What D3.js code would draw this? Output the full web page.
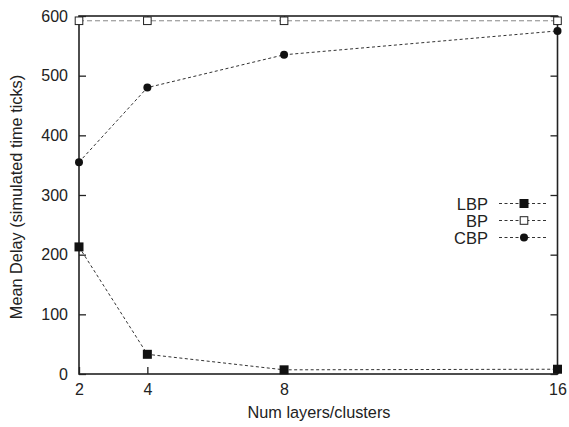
<!DOCTYPE html>
<html>
<head>
<meta charset="utf-8">
<script src="https://cdn.jsdelivr.net/npm/d3@7"></script>
<style>
  body { margin: 0; background: #fff; }
  text { font-family: "Liberation Sans", Arial, sans-serif; fill: #222; }
</style>
</head>
<body>
<script>
const xValues = [2, 4, 8, 16];
const lbp = [213, 33, 7, 8];
const bp = [592, 592, 592, 592];
const cbp = [355, 480, 535, 575];
const yTicks = [0, 100, 200, 300, 400, 500, 600];
const seriesNames = ["LBP", "BP", "CBP"];

const w = 569, h = 427;
const plotL = 79, plotR = 557.5, plotT = 16, plotB = 374;

const svg = d3.select("body").append("svg")
  .attr("width", w).attr("height", h);

const xScale = d3.scaleLinear().domain([2, 16]).range([plotL, plotR]);
const yScale = d3.scaleLinear().domain([0, 600]).range([plotB, plotT]);

// axes with inward ticks (mirrored on top and right)
svg.append("g")
  .attr("transform", `translate(0,${plotB})`)
  .call(d3.axisBottom(xScale).tickValues(xValues).tickSizeInner(-7).tickSizeOuter(0).tickPadding(10))
  .call(g => g.select(".domain").remove())
  .call(g => g.selectAll("text").attr("font-size", 16).attr("fill", "#222"));

svg.append("g")
  .attr("transform", `translate(0,${plotT})`)
  .call(d3.axisTop(xScale).tickValues(xValues).tickSizeInner(-7).tickSizeOuter(0).tickFormat(""))
  .call(g => g.select(".domain").remove());

svg.append("g")
  .attr("transform", `translate(${plotL},0)`)
  .call(d3.axisLeft(yScale).tickValues(yTicks).tickSizeInner(-7).tickSizeOuter(0).tickPadding(11))
  .call(g => g.select(".domain").remove())
  .call(g => g.selectAll("text").attr("font-size", 16).attr("fill", "#222"));

svg.append("g")
  .attr("transform", `translate(${plotR},0)`)
  .call(d3.axisRight(yScale).tickValues(yTicks).tickSizeInner(-7).tickSizeOuter(0).tickFormat(""))
  .call(g => g.select(".domain").remove());

svg.selectAll(".tick line").attr("stroke", "#222").attr("stroke-width", 1.3);

svg.append("rect")
  .attr("x", plotL).attr("y", plotT)
  .attr("width", plotR - plotL).attr("height", plotB - plotT)
  .attr("fill", "none").attr("stroke", "#222").attr("stroke-width", 1.6);

const line = d3.line().x((d, i) => xScale(xValues[i])).y(d => yScale(d));

const styles = {
  LBP: { data: lbp, stroke: "#333", dash: "3,2.5", marker: "fillsq" },
  BP:  { data: bp,  stroke: "#888", dash: "5,3", marker: "opensq" },
  CBP: { data: cbp, stroke: "#333", dash: "3,2.5", marker: "circle" }
};

function drawMarker(g, type, x, y) {
  if (type === "fillsq") {
    g.append("rect").attr("x", x - 4.5).attr("y", y - 4.5).attr("width", 9).attr("height", 9)
      .attr("fill", "#111");
  } else if (type === "opensq") {
    g.append("rect").attr("x", x - 3.8).attr("y", y - 3.8).attr("width", 7.6).attr("height", 7.6)
      .attr("fill", "#fff").attr("stroke", "#222").attr("stroke-width", 1);
  } else {
    g.append("circle").attr("cx", x).attr("cy", y).attr("r", 4).attr("fill", "#111");
  }
}

seriesNames.forEach(name => {
  const s = styles[name];
  svg.append("path")
    .datum(s.data)
    .attr("d", line)
    .attr("fill", "none")
    .attr("stroke", s.stroke)
    .attr("stroke-width", 1)
    .attr("stroke-dasharray", s.dash);
  const g = svg.append("g");
  s.data.forEach((v, i) => drawMarker(g, s.marker, xScale(xValues[i]), yScale(v)));
});

// legend
const legendY = [203.5, 220.5, 237.5];
seriesNames.forEach((name, i) => {
  const s = styles[name];
  const y = legendY[i];
  svg.append("text")
    .attr("x", 488).attr("y", y + 6)
    .attr("text-anchor", "end").attr("font-size", 16.5)
    .text(name);
  svg.append("line")
    .attr("x1", 499).attr("x2", 548).attr("y1", y).attr("y2", y)
    .attr("stroke", "#333").attr("stroke-width", 1).attr("stroke-dasharray", "3,2.5");
  drawMarker(svg.append("g"), s.marker, 524, y);
});

svg.append("text")
  .attr("x", 319).attr("y", 418)
  .attr("text-anchor", "middle").attr("font-size", 16.3)
  .text("Num layers/clusters");

svg.append("text")
  .attr("transform", `translate(22,197) rotate(-90)`)
  .attr("text-anchor", "middle").attr("font-size", 16.3)
  .text("Mean Delay (simulated time ticks)");
</script>
</body>
</html>
